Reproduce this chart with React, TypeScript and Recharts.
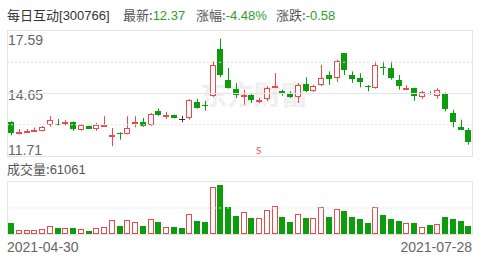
import React from "react";
import { ComposedChart, Bar, XAxis, YAxis, ReferenceLine } from "recharts";

const RED = "#ea4a4a";
const GREEN = "#0c9c0c";

const dates = [
  "2021-04-30",
  "2021-05-06", "2021-05-07", "2021-05-10", "2021-05-11", "2021-05-12", "2021-05-13", "2021-05-14",
  "2021-05-17", "2021-05-18", "2021-05-19", "2021-05-20", "2021-05-21", "2021-05-24", "2021-05-25",
  "2021-05-26", "2021-05-27", "2021-05-28", "2021-05-31",
  "2021-06-01", "2021-06-02", "2021-06-03", "2021-06-04", "2021-06-07", "2021-06-08", "2021-06-09",
  "2021-06-10", "2021-06-11", "2021-06-15", "2021-06-16", "2021-06-17", "2021-06-18", "2021-06-21",
  "2021-06-22", "2021-06-23", "2021-06-24", "2021-06-25", "2021-06-28", "2021-06-29", "2021-06-30",
  "2021-07-01", "2021-07-02", "2021-07-05", "2021-07-06", "2021-07-07", "2021-07-08", "2021-07-09",
  "2021-07-12", "2021-07-13", "2021-07-14", "2021-07-15", "2021-07-16", "2021-07-19", "2021-07-20",
  "2021-07-21", "2021-07-22", "2021-07-23", "2021-07-26", "2021-07-27", "2021-07-28",
];

const opens = [
  13.32, 12.74, 12.88, 12.92, 12.89, 13.17, 13.22, 13.2, 13.32, 12.93,
  13.11, 13.0, 13.17, 12.66, 12.8, 12.75, 13.3, 13.3, 13.15, 13.81,
  13.64, 13.62, 13.46, 13.5, 14.25, 14.13, 14.52, 16.76, 15.3, 14.86,
  14.58, 14.57, 14.25, 14.41, 14.97, 14.78, 14.67, 14.47, 15.1, 14.75,
  15.04, 15.53, 15.38, 16.55, 15.53, 15.38, 15.02, 14.91, 15.9, 15.85,
  15.3, 14.9, 14.91, 14.47, 14.68, 14.52, 14.67, 13.73, 13.06, 12.92,
];
const closes = [
  12.77, 12.84, 12.9, 12.95, 13.09, 13.4, 13.18, 13.3, 12.98, 13.17,
  13.0, 13.18, 13.19, 12.69, 12.78, 13.03, 13.32, 13.11, 13.69, 13.62,
  13.65, 13.5, 13.46, 14.36, 13.97, 14.11, 16.0, 15.53, 14.91, 14.59,
  14.6, 14.36, 14.36, 14.91, 14.99, 14.66, 14.49, 15.04, 14.75, 15.02,
  15.38, 15.35, 16.16, 15.77, 15.35, 15.19, 14.94, 15.98, 15.87, 15.38,
  14.99, 14.92, 14.52, 14.72, 14.65, 14.83, 13.94, 13.31, 12.95, 12.37,
];
const highs = [
  13.34, 12.98, 12.98, 13.05, 13.12, 13.59, 13.45, 13.4, 13.34, 13.2,
  13.14, 13.26, 13.58, 13.03, 12.82, 13.58, 13.58, 13.5, 13.73, 13.94,
  13.78, 13.65, 13.6, 14.38, 14.4, 14.3, 16.16, 17.23, 15.85, 15.14,
  14.83, 14.62, 14.45, 15.0, 15.61, 14.83, 14.75, 15.14, 15.41, 15.06,
  16.0, 15.69, 16.24, 16.56, 15.69, 15.6, 15.04, 16.16, 16.16, 16.16,
  15.52, 15.04, 14.92, 14.78, 14.75, 14.9, 14.7, 13.89, 13.42, 13.03,
];
const lows = [
  12.68, 12.72, 12.8, 12.86, 12.87, 13.09, 13.16, 13.16, 12.89, 12.9,
  12.98, 12.89, 13.1, 12.17, 12.48, 12.73, 13.06, 13.08, 13.12, 13.6,
  13.45, 13.48, 13.3, 13.42, 13.94, 13.84, 14.49, 15.41, 14.88, 14.44,
  14.12, 14.2, 14.2, 14.3, 14.96, 14.55, 14.44, 14.2, 14.72, 14.72,
  15.0, 15.06, 15.19, 15.52, 15.15, 14.94, 14.75, 14.88, 15.52, 15.3,
  14.83, 14.8, 14.31, 14.4, 14.6, 14.4, 13.81, 13.06, 12.93, 12.24,
];

const volumes = [
  81700, 30500, 30500, 30500, 38200, 63400, 48100, 43500, 48100, 38200,
  25200, 48100, 53400, 109200, 63400, 109200, 91600, 63400, 112200, 89300,
  55700, 55700, 48100, 152700, 99200, 89300, 356500, 374000, 203800, 139700,
  170200, 119800, 124400, 183200, 213700, 132100, 93900, 150400, 119800, 119800,
  203800, 132100, 188500, 175600, 132100, 114500, 81700, 203800, 142700, 114500,
  99200, 81700, 81700, 51100, 68700, 76300, 132100, 112200, 101500, 61061,
];

const priceTicks = [11.71, 14.65, 17.59];

const data = dates.map((date, i) => ({
  date,
  open: opens[i],
  close: closes[i],
  high: highs[i],
  low: lows[i],
  range: [lows[i], highs[i]],
  volume: volumes[i],
}));

const colorOf = (open: number, close: number) =>
  close > open ? RED : close < open ? GREEN : "#333";

const Candle = (props: any) => {
  const { x, y, width, height, payload } = props;
  const { open, close, high, low } = payload;
  const color = colorOf(open, close);
  const top = Math.min(y, y + height);
  const h = Math.abs(height);
  const span = high - low || 1;
  const yOf = (v: number) => top + ((high - v) / span) * h;
  const cx = Math.round(x + width / 2) + 0.5;
  const bTop = Math.round(yOf(Math.max(open, close)));
  const bBot = Math.round(yOf(Math.min(open, close)));
  const left = Math.round(x);
  const w = Math.round(width);
  return (
    <g>
      <line x1={cx} x2={cx} y1={top} y2={top + h} stroke={color} strokeWidth={1} />
      {close > open ? (
        <rect
          x={left + 0.5}
          y={bTop + 0.5}
          width={w - 1}
          height={Math.max(bBot - bTop - 1, 1)}
          fill="#fff"
          stroke={color}
        />
      ) : (
        <rect x={left} y={bTop} width={w} height={Math.max(bBot - bTop, 1)} fill={color} />
      )}
    </g>
  );
};

const VolBar = (props: any) => {
  const { x, y, width, height, payload } = props;
  const up = payload.close > payload.open;
  const left = Math.round(x);
  const w = Math.round(width);
  const top = Math.round(y);
  const h = Math.round(height);
  if (up) {
    return (
      <rect x={left + 0.5} y={top + 0.5} width={w - 1} height={h - 1} fill="#fff" stroke={RED} />
    );
  }
  return <rect x={left} y={top} width={w} height={h} fill={GREEN} />;
};

const text = (style: React.CSSProperties): React.CSSProperties => ({
  position: "absolute",
  whiteSpace: "nowrap",
  fontFamily: "'Noto Sans CJK SC', 'Liberation Sans', sans-serif",
  lineHeight: 1,
  ...style,
});

const num: React.CSSProperties = { fontFamily: "'Liberation Sans', Arial, sans-serif" };

export default function App() {
  return (
    <div style={{ position: "absolute", left: 0, top: 0, width: 499, height: 261, background: "#fff", overflow: "hidden" }}>
      <span style={text({ left: 7, top: 8, fontSize: 13, color: "#333" })}>
        每日互动<span style={num}>[300766]</span>
      </span>
      <span style={text({ left: 123, top: 8, fontSize: 13, color: "#555" })}>
        最新:<span style={{ ...num, color: "#2c9e2c" }}>12.37</span>
      </span>
      <span style={text({ left: 196, top: 8, fontSize: 13, color: "#555" })}>
        涨幅:<span style={{ ...num, color: "#2c9e2c" }}>-4.48%</span>
      </span>
      <span style={text({ left: 276, top: 8, fontSize: 13, color: "#555" })}>
        涨跌:<span style={{ ...num, color: "#2c9e2c" }}>-0.58</span>
      </span>

      <div style={{ position: "absolute", left: 7, top: 30, width: 466, height: 127, border: "1px solid #e4e4e4", boxSizing: "border-box" }} />
      <div style={{ position: "absolute", left: 7, top: 181, width: 466, height: 54, border: "1px solid #e4e4e4", boxSizing: "border-box" }} />

      <span style={text({ left: 200, top: 80, fontSize: 27, fontWeight: 700, color: "#efefef" })}>东方财富</span>

      <span style={text({ ...num, left: 8, top: 33, fontSize: 14, color: "#666" })}>17.59</span>
      <span style={text({ ...num, left: 8, top: 88, fontSize: 14, color: "#666" })}>14.65</span>
      <span style={text({ ...num, left: 8, top: 143, fontSize: 14, color: "#666" })}>11.71</span>
      <span style={text({ left: 256, top: 146, fontSize: 9, color: RED })}>S</span>

      <div style={{ position: "absolute", left: 0, top: 0 }}>
        <ComposedChart width={499} height={160} data={data} margin={{ top: 31, right: 27, bottom: 4, left: 7 }}>
          <XAxis dataKey="date" hide />
          <YAxis hide domain={[priceTicks[0], priceTicks[2]]} ticks={priceTicks} />
          <ReferenceLine y={16.12} stroke="#e2e2e2" strokeDasharray="2 2" />
          <ReferenceLine y={14.65} stroke="#e4e4e4" />
          <ReferenceLine y={13.18} stroke="#e2e2e2" strokeDasharray="2 2" />
          <Bar dataKey="range" barSize={6} shape={Candle} isAnimationActive={false} />
        </ComposedChart>
      </div>

      <span style={text({ left: 7, top: 162, fontSize: 13, color: "#555" })}>
        成交量:<span style={num}>61061</span>
      </span>

      <div style={{ position: "absolute", left: 0, top: 0 }}>
        <ComposedChart width={499} height={240} data={data} margin={{ top: 182, right: 27, bottom: 6, left: 7 }}>
          <XAxis dataKey="date" hide />
          <YAxis hide domain={[0, 397000]} />
          <ReferenceLine y={198500} stroke="#e2e2e2" strokeDasharray="2 2" />
          <Bar dataKey="volume" barSize={6} shape={VolBar} isAnimationActive={false} />
        </ComposedChart>
      </div>

      <span style={text({ ...num, left: 7, top: 240, fontSize: 14, color: "#666" })}>{dates[0]}</span>
      <span style={text({ ...num, right: 27, top: 240, fontSize: 14, color: "#666" })}>{dates[dates.length - 1]}</span>
    </div>
  );
}
